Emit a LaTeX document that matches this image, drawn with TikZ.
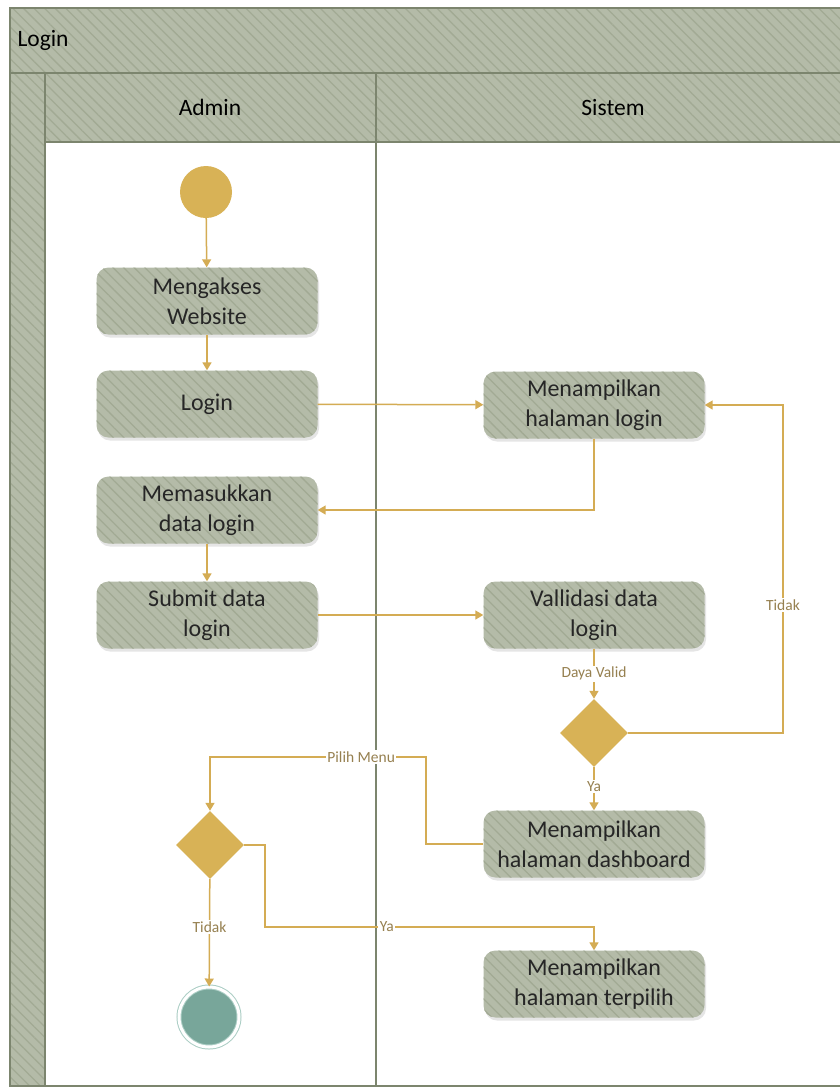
\documentclass[tikz,border=0pt]{standalone}
\usepackage{fontspec}
\setmainfont{Carlito}
\usetikzlibrary{shapes.geometric,patterns.meta,shadows,arrows.meta}
\definecolor{lanefill}{RGB}{180,187,168}
\definecolor{lanestripe}{RGB}{162,170,148}
\definecolor{laneline}{RGB}{124,133,110}
\definecolor{flowc}{RGB}{212,172,84}
\definecolor{nodegold}{RGB}{216,178,86}
\definecolor{labelc}{RGB}{150,128,80}
\definecolor{endc}{RGB}{120,166,154}
\definecolor{ringc}{RGB}{170,205,196}

\begin{document}
\begin{tikzpicture}[
  hatch/.style={preaction={fill=lanefill}, pattern={Lines[angle=-45,distance=7.5pt,line width=1.3pt]}, pattern color=lanestripe},
  activity/.style={drop shadow={shadow xshift=1.5pt, shadow yshift=-3pt, opacity=0.25, fill=black!40}, hatch, rounded corners=12pt, minimum width=221pt, minimum height=67pt, inner sep=2pt, align=center, text=black!85, font=\fontsize{24}{30}\selectfont},
  decision/.style={diamond, aspect=1, minimum width=68pt, minimum height=68pt, inner sep=0pt, fill=nodegold},
  flow/.style={draw=flowc, line width=1.5pt, -{Triangle[width=9pt,length=8pt]}},
  guard/.style={fill=white, inner sep=1.5pt, text=labelc, font=\fontsize{15.5}{17}\selectfont},
  lanetitle/.style={font=\fontsize{23.5}{27}\selectfont, text=black}
]
\useasboundingbox (0pt,0pt) rectangle (840pt,-1088pt);
% swimlane frame
\path[hatch] (10pt,-8pt) rectangle (870pt,-1086pt);
\fill[white] (45pt,-142pt) rectangle (870pt,-1086pt);
\draw[laneline, line width=1.5pt] (10pt,-8pt) rectangle (870pt,-1086pt);
\draw[laneline, line width=1.5pt] (10pt,-73pt) -- (870pt,-73pt)
  (45pt,-73pt) -- (45pt,-1086pt)
  (45pt,-142pt) -- (870pt,-142pt)
  (376pt,-73pt) -- (376pt,-1086pt);
\node[lanetitle, anchor=west] (pool) at (14pt,-40pt) {Login};
\node[lanetitle] (admin) at (210pt,-107pt) {Admin};
\node[lanetitle] (sistem) at (613pt,-107pt) {Sistem};

% admin lane
\node (start) [circle, minimum size=52pt, inner sep=0pt, fill=nodegold] at (206pt,-192pt) {};
\node (akses) [activity] at (207pt,-301pt) {Mengakses\\Website};
\node (login) [activity] at (207pt,-404pt) {Login};
\node (masuk) [activity] at (207pt,-510pt) {Memasukkan\\data login};
\node (submit) [activity] at (207pt,-615pt) {Submit data\\login};
\node (pilih) [decision] at (210pt,-845pt) {};
\node (akhir) [circle, minimum size=60pt, inner sep=0pt, fill=endc, draw=ringc, line width=1pt, double=white, double distance=3pt] at (209pt,-1017pt) {};

% sistem lane
\node (hlogin) [activity] at (594pt,-405pt) {Menampilkan\\halaman login};
\node (valid) [activity] at (594pt,-615pt) {Vallidasi data\\login};
\node (cek) [decision] at (594pt,-733pt) {};
\node (dash) [activity] at (594pt,-844pt) {Menampilkan\\halaman dashboard};
\node (terpilih) [activity] at (594pt,-984pt) {Menampilkan\\halaman terpilih};

\coordinate (t1) at (783pt,-733pt);
\coordinate (p1) at (426pt,-757pt);
\coordinate (p2) at (210pt,-757pt);
\coordinate (y1) at (265pt,-927pt);
\coordinate (y2) at (594pt,-927pt);

\draw[flow] (start) -- (akses);
\draw[flow] (akses) -- (login);
\draw[flow] (login) -- (hlogin);
\draw[flow] (hlogin.south) |- (masuk.east);
\draw[flow] (masuk) -- (submit);
\draw[flow] (submit) -- (valid);
\draw[flow] (valid) -- node[guard] {Daya Valid} (cek);
\draw[flow] (cek.east) -- (t1) -- node[guard, pos=0.39] {Tidak} (t1 |- hlogin.east) -- (hlogin.east);
\draw[flow] (cek) -- node[guard, pos=0.45] {Ya} (dash);
\draw[flow] (dash.west) -| (p1) -- node[guard, pos=0.3] {Pilih Menu} (p2) -- (pilih);
\draw[flow] (pilih.east) -| (y1) -- node[guard, pos=0.37] {Ya} (y2) -- (terpilih);
\draw[flow] (pilih) -- node[guard, pos=0.45] {Tidak} (akhir);
\end{tikzpicture}
\end{document}
